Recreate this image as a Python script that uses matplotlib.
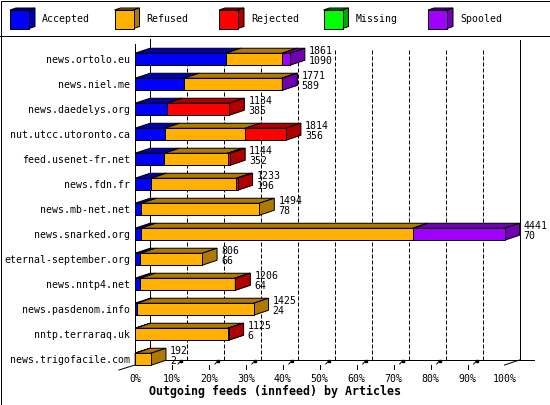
import matplotlib
matplotlib.use("Agg")
import matplotlib.pyplot as plt
from matplotlib.patches import Polygon, Rectangle

# innfeed outgoing feeds, counts of articles per peer
hosts = ["news.ortolo.eu", "news.niel.me", "news.daedelys.org",
         "nut.utcc.utoronto.ca", "feed.usenet-fr.net", "news.fdn.fr",
         "news.mb-net.net", "news.snarked.org", "eternal-september.org",
         "news.nntp4.net", "news.pasdenom.info", "nntp.terraraq.uk",
         "news.trigofacile.com"]
accepted = [1090, 589, 385, 356, 352, 196, 78, 70, 66, 64, 24, 6, 2]
refused = [680, 1176, 0, 971, 762, 1022, 1416, 3269, 740, 1136, 1401, 1109, 190]
rejected = [0, 0, 749, 487, 30, 15, 0, 0, 0, 6, 0, 10, 0]
missing = [0] * 13
spooled = [91, 6, 0, 0, 0, 0, 0, 1102, 0, 0, 0, 0, 0]
series_names = ["Accepted", "Refused", "Rejected", "Missing", "Spooled"]
tick_labels = ["%d%%" % v for v in range(0, 101, 10)]

front = ["#0000ff", "#ffb000", "#ff0000", "#00ff00", "#a000ff"]
dark = ["#0000b0", "#b07a00", "#b00000", "#00a800", "#7000b0"]

series = [accepted, refused, rejected, missing, spooled]
totals = [sum(s[i] for s in series) for i in range(len(hosts))]
top = max(totals)

MONO = "DejaVu Sans Mono"
FS = 7.1
LW = 0.72  # one pixel at 100 dpi

fig = plt.figure(figsize=(5.5, 4.05), dpi=100)

# frame + legend drawn in pixel space
deco = fig.add_axes([0, 0, 1, 1])
deco.set_xlim(0, 550)
deco.set_ylim(405, 0)
deco.axis("off")
deco.add_patch(Rectangle((0.5, 0.5), 549, 404, fc="white", ec="black", lw=LW))
deco.plot([0, 550], [35.5, 35.5], color="black", lw=LW)
for j, name in enumerate(series_names):
    x0 = 10 + 104.5 * j
    deco.add_patch(Polygon([(x0, 10), (x0 + 6, 8), (x0 + 25, 8), (x0 + 19, 10)],
                           fc=dark[j], ec="black", lw=LW))
    deco.add_patch(Polygon([(x0 + 19, 10), (x0 + 25, 8), (x0 + 25, 26.5), (x0 + 19, 28.5)],
                           fc=dark[j], ec="black", lw=LW))
    deco.add_patch(Rectangle((x0, 10), 19, 18.5, fc=front[j], ec="black", lw=LW))
    deco.text(x0 + 32, 19.5, name, family=MONO, fontsize=FS, va="center", ha="left")

# plot area (front plane): 0..100 %, rows 25 px apart
SX = 369.5 / 100.0
SY = 25.0
DX = 15 / SX
DY = 5 / SY
H = 6 / SY
YB = (365 - 59.25) / SY
YT = (36 - 59.25) / SY

ax = fig.add_axes([135 / 550, (405 - 365) / 405, 369.5 / 550, (365 - 36) / 405])
ax.set_xlim(0, 100)
ax.set_ylim(YB, YT)
ax.patch.set_alpha(0)
for sp in ax.spines.values():
    sp.set_visible(False)
ax.set_yticks(range(len(hosts)), hosts, family=MONO, fontsize=FS)
ax.set_xticks(range(0, 101, 10), tick_labels, family=MONO, fontsize=FS)
ax.tick_params(length=0)
ax.tick_params(axis="y", pad=3.6)
ax.tick_params(axis="x", pad=6.3)

kw = dict(color="black", lw=LW, clip_on=False)
# walls and floor
ax.plot([0, 0], [YB, (44 - 59.25) / SY], **kw)
ax.plot([DX, DX], [YB - DY, (39.3 - 59.25) / SY], **kw)
ax.plot([100 + DX, 100 + DX], [YB - DY, (40 - 59.25) / SY], **kw)
ax.plot([0, 399 / SX], [YB - DY, YB - DY], **kw)
ax.plot([-16 / SX, 0], [YB + 5 / SY, YB], **kw)
ax.plot([100, 100 + DX], [YB, YB - DY], **kw)
for k in range(1, 10):
    xk = 10 * k
    ax.plot([xk + DX, xk + DX], [YB - DY, (50 - 59.25) / SY], color="black",
            lw=LW, linestyle=(0, (4, 2)), zorder=1)
    ax.plot([xk, xk], [YB, YB + 4 / SY], **kw)
    ax.plot([xk + 6 / SX, xk + 9 / SX], [YB - 1 / SY, YB - 4 / SY], **kw)
    ax.plot([xk + 9 / SX], [YB - 4 / SY], marker="s", ms=2, color="black", clip_on=False)

# 3d stacked bars
for i, host in enumerate(hosts):
    y0 = i - H
    y1 = i + H
    left = 0.0
    for j, s in enumerate(series):
        if s[i] == 0:
            continue
        x0 = left
        x1 = left + s[i] / top * 100
        left = x1
        ax.add_patch(Polygon([(x0, y0), (x1, y0), (x1 + DX, y0 - DY), (x0 + DX, y0 - DY)],
                             fc=dark[j], ec="black", lw=LW, zorder=3, clip_on=False))
        ax.add_patch(Polygon([(x1, y0), (x1 + DX, y0 - DY), (x1 + DX, y1 - DY), (x1, y1)],
                             fc=dark[j], ec="black", lw=LW, zorder=3, clip_on=False))
        ax.add_patch(Rectangle((x0, y0), x1 - x0, y1 - y0, fc=front[j], ec="black",
                               lw=LW, zorder=3, clip_on=False))
    xt = left + DX + 4 / SX
    ax.text(xt, i - 8.7 / SY, str(totals[i]), family=MONO, fontsize=FS,
            va="center", ha="left", zorder=5, clip_on=False)
    ax.text(xt, i + 1.8 / SY, str(accepted[i]), family=MONO, fontsize=FS,
            va="center", ha="left", zorder=5, clip_on=False)

fig.text(0.5, (405 - 391.5) / 405, "Outgoing feeds (innfeed) by Articles",
         family=MONO, fontsize=8.4, fontweight="bold", ha="center", va="center")

fig.savefig("out.png", dpi=100)
